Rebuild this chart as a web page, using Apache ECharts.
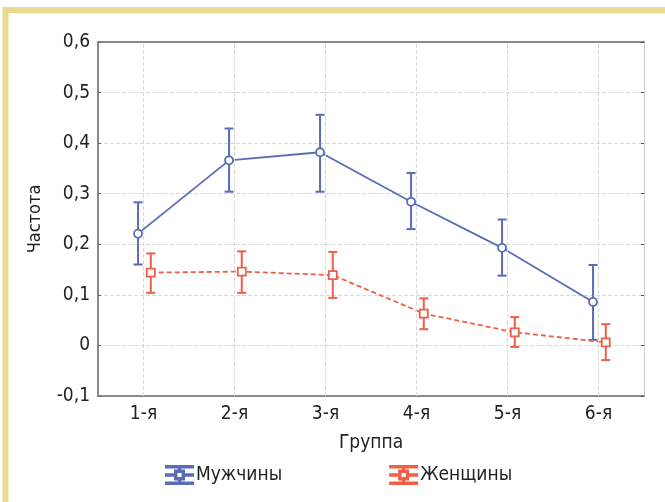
<!DOCTYPE html>
<html lang="ru">
<head>
    <meta charset="UTF-8">
    <script type="text/javascript" src="https://cdn.jsdelivr.net/npm/echarts@6/dist/echarts.min.js"></script>
    <title>Частота по группам</title>
    <style>
        body { margin: 0; background: #fff; }
    </style>
</head>
<body>
<div id="chart" style="width: 665px;height:502px;"></div>
<script type="text/javascript">
    // данные
    var groups = ['1-я', '2-я', '3-я', '4-я', '5-я', '6-я'];
    var yTicks = [-0.1, 0, 0.1, 0.2, 0.3, 0.4, 0.5, 0.6];

    var menMean = [0.221, 0.366, 0.382, 0.284, 0.193, 0.086];
    var menLow  = [0.160, 0.304, 0.304, 0.230, 0.138, 0.011];
    var menHigh = [0.283, 0.429, 0.456, 0.341, 0.249, 0.159];

    var womenMean = [0.144, 0.146, 0.139, 0.063, 0.026, 0.006];
    var womenLow  = [0.104, 0.104, 0.094, 0.032, -0.003, -0.029];
    var womenHigh = [0.182, 0.186, 0.185, 0.093, 0.056, 0.042];

    var BLUE = '#5a6bb7';
    var RED = '#ef5e47';
    var FONT = "'Liberation Sans Narrow', 'DejaVu Sans Condensed', sans-serif";
    // сдвиг точек относительно центра группы (в долях ширины группы)
    var MEN_SHIFT = -0.06;
    var WOMEN_SHIFT = 0.08;

    function points(vals, shift) {
        return vals.map(function (v, i) { return [i + 1 + shift, v]; });
    }
    function bars(low, high, shift) {
        return low.map(function (v, i) { return [i + 1 + shift, v, high[i]]; });
    }

    function errorBar(color) {
        return function (params, api) {
            var x = api.value(0);
            var lo = api.coord([x, api.value(1)]);
            var hi = api.coord([x, api.value(2)]);
            var cap = 4.5;
            var style = { stroke: color, lineWidth: 2 };
            return {
                type: 'group',
                children: [
                    { type: 'line', shape: { x1: lo[0], y1: lo[1], x2: hi[0], y2: hi[1] }, style: style },
                    { type: 'line', shape: { x1: lo[0] - cap, y1: lo[1], x2: lo[0] + cap, y2: lo[1] }, style: style },
                    { type: 'line', shape: { x1: hi[0] - cap, y1: hi[1], x2: hi[0] + cap, y2: hi[1] }, style: style }
                ]
            };
        };
    }

    var legendIcon = 'path://M0,0H30V1.6H0Z M0,18.4H30V20H0Z M14.2,1.6H15.8V6H14.2Z M14.2,14H15.8V18.4H14.2Z ' +
        'M0,9.2H10V10.8H0Z M20,9.2H30V10.8H20Z M10,5H20V15H10Z M11.6,6.6V13.4H18.4V6.6Z';

    var chart = echarts.init(document.getElementById('chart'));
    chart.setOption({
        animation: false,
        textStyle: { fontFamily: FONT, color: '#222' },
        graphic: [{
            type: 'rect',
            shape: { x: 5.5, y: 10, width: 720, height: 560 },
            style: { fill: null, stroke: '#e8dc8f', lineWidth: 6 },
            silent: true
        }],
        grid: { left: 98, top: 42, right: 21, bottom: 106 },
        legend: {
            left: 160,
            top: 460,
            itemWidth: 27,
            itemHeight: 18,
            itemGap: 107,
            textStyle: { fontFamily: FONT, fontSize: 19, color: '#222', padding: [0, 0, 0, -2] },
            data: [
                { name: 'Мужчины', icon: legendIcon, itemStyle: { color: BLUE } },
                { name: 'Женщины', icon: legendIcon, itemStyle: { color: RED } }
            ]
        },
        xAxis: [{
            type: 'category',
            data: groups,
            position: 'bottom',
            name: 'Группа',
            nameLocation: 'middle',
            nameGap: 38,
            nameTextStyle: { fontFamily: FONT, fontSize: 19, color: '#222' },
            axisLine: { onZero: false, lineStyle: { color: '#8a8a8a', width: 2 } },
            axisTick: { inside: true, alignWithLabel: true, length: 3, lineStyle: { color: '#777' } },
            axisLabel: { fontFamily: FONT, fontSize: 19, color: '#222', margin: 9 },
            splitLine: { show: false }
        }, {
            type: 'value',
            min: 0.5,
            max: 6.5,
            show: false
        }, {
            type: 'category',
            data: groups,
            position: 'top',
            axisLine: { onZero: false, lineStyle: { color: '#8a8a8a', width: 2 } },
            axisTick: { inside: true, alignWithLabel: true, length: 3, lineStyle: { color: '#555' } },
            axisLabel: { show: false }
        }],
        yAxis: [{
            type: 'value',
            min: yTicks[0],
            max: yTicks[yTicks.length - 1],
            interval: 0.1,
            name: 'Частота',
            nameLocation: 'middle',
            nameGap: 54,
            nameTextStyle: { fontFamily: FONT, fontSize: 18, color: '#222' },
            axisLine: { show: true, onZero: false, lineStyle: { color: '#8a8a8a', width: 2 } },
            axisTick: { show: true, inside: true, length: 3, lineStyle: { color: '#666' } },
            axisLabel: {
                fontFamily: FONT, fontSize: 19, color: '#222', margin: 8,
                formatter: function (v) { return String(Math.round(v * 10) / 10).replace('.', ','); }
            },
            splitLine: { lineStyle: { color: '#d8d8d8', type: [4, 2] } }
        }, {
            type: 'value',
            position: 'right',
            min: yTicks[0],
            max: yTicks[yTicks.length - 1],
            interval: 0.1,
            axisLine: { show: true, onZero: false, lineStyle: { color: '#d0d0d0', width: 1 } },
            axisTick: { show: true, inside: true, length: 3, lineStyle: { color: '#555' } },
            axisLabel: { show: false },
            splitLine: { show: false }
        }],
        series: [{
            name: 'Мужчины, интервал',
            type: 'custom',
            xAxisIndex: 1,
            z: 3,
            renderItem: errorBar(BLUE),
            data: bars(menLow, menHigh, MEN_SHIFT),
            silent: true
        }, {
            name: 'Женщины, интервал',
            type: 'custom',
            xAxisIndex: 1,
            z: 3,
            renderItem: errorBar(RED),
            data: bars(womenLow, womenHigh, WOMEN_SHIFT),
            silent: true
        }, {
            name: 'Мужчины',
            type: 'line',
            xAxisIndex: 1,
            z: 4,
            data: points(menMean, MEN_SHIFT),
            symbol: 'circle',
            symbolSize: 8,
            itemStyle: { color: '#fff', borderColor: BLUE, borderWidth: 1.8 },
            lineStyle: { color: BLUE, width: 1.8 },
            markLine: {
                silent: true,
                symbol: 'none',
                label: { show: false },
                lineStyle: { color: '#d8d8d8', type: [4, 2], width: 1 },
                data: groups.map(function (g, i) { return { xAxis: i + 1 }; })
            }
        }, {
            name: 'Женщины',
            type: 'line',
            xAxisIndex: 1,
            z: 4,
            data: points(womenMean, WOMEN_SHIFT),
            symbol: 'rect',
            symbolSize: 8,
            itemStyle: { color: '#fff', borderColor: RED, borderWidth: 1.8 },
            lineStyle: { color: RED, width: 1.8, type: [5, 3] }
        }]
    });
</script>
</body>
</html>
